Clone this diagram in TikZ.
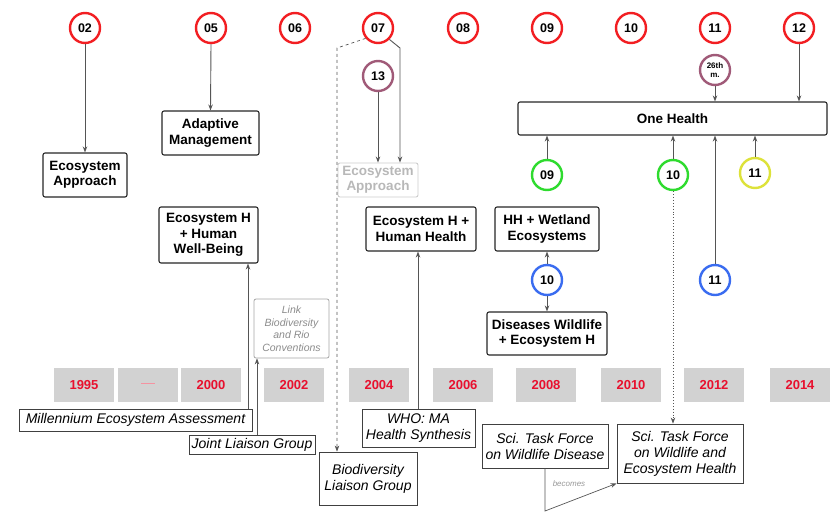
\documentclass[tikz,border=0pt]{standalone}
\usepackage{fontspec}
\setmainfont{Liberation Sans}
\usetikzlibrary{arrows.meta}
\definecolor{cred}{HTML}{F21E22}
\definecolor{cgreen}{HTML}{2EDB2E}
\definecolor{cyel}{HTML}{DDE23A}
\definecolor{cblue}{HTML}{3A6CF0}
\definecolor{cpurp}{HTML}{A05A78}
\definecolor{yrred}{HTML}{E8102E}
\definecolor{yrbox}{HTML}{D2D2D2}
\definecolor{ln}{HTML}{555555}
\tikzset{
  circ/.style={circle, line width=2.4pt, fill=white, minimum size=30pt, inner sep=0pt,
    font=\fontsize{12.5}{13}\selectfont\bfseries},
  rc/.style={circ, draw=cred},
  gc/.style={circ, draw=cgreen},
  yc/.style={circ, draw=cyel},
  bc/.style={circ, draw=cblue},
  pc/.style={circ, draw=cpurp},
  bbox/.style={draw=black!85, line width=1.1pt, rounded corners=2pt, fill=white, align=center,
    inner sep=1pt, font=\fontsize{13.5}{15.5}\selectfont\bfseries},
  ibox/.style={draw=black!75, line width=0.8pt, fill=white, align=center, inner sep=1pt,
    font=\fontsize{14}{16}\selectfont\itshape},
  yr/.style={fill=yrbox, minimum width=60pt, minimum height=34pt, inner sep=0pt,
    text=yrred, font=\fontsize{13}{14}\selectfont\bfseries},
  arr/.style={draw=ln, line width=0.9pt, -{Stealth[length=6pt,width=4.5pt]}},
}
\begin{document}
\begin{tikzpicture}[x=1pt,y=-1pt]
\useasboundingbox (0,0) rectangle (833,512);
% year boxes
\foreach \xx/\lab/\nm in {84/1995/y1, 148/{\textcolor{yrred!45}{\rule[3pt]{14pt}{1pt}}}/y2, 211/2000/y3, 294/2002/y4, 379/2004/y5, 463/2006/y6, 546/2008/y7, 631/2010/y8, 714/2012/y9, 800/2014/y10}
  \node[yr] (\nm) at (\xx,385) {\lab};
% top circles
\node[rc] (c02) at (85,28) {02};
\node[rc] (c05) at (211,28) {05};
\node[rc] (c06) at (295,28) {06};
\node[rc] (c07) at (378,28) {07};
\node[rc] (c08) at (463,28) {08};
\node[rc] (c09) at (547,28) {09};
\node[rc] (c10) at (631,28) {10};
\node[rc] (c11) at (715,28) {11};
\node[rc] (c12) at (799,28) {12};
\node[pc] (c13) at (378,76) {13};
\node[pc, font=\fontsize{8}{9}\selectfont\bfseries, align=center] (m26) at (715,70) {26th\\m.};
\node[gc] (g09) at (547,175) {09};
\node[gc] (g10) at (673,175) {10};
\node[yc] (y11) at (755,173) {11};
\node[bc] (b10) at (547,280) {10};
\node[bc] (b11) at (715,280) {11};
% boxes
\node[bbox, minimum width=309pt, minimum height=33pt] (OH) at (672.5,118.5) {One Health};
\node[bbox, minimum width=84pt, minimum height=44pt] (EA1) at (85,175) {Ecosystem\\Approach};
\node[bbox, minimum width=97pt, minimum height=44pt] (AM) at (210.5,133) {Adaptive\\Management};
\node[bbox, draw=black!20, text=black!28, line width=0.9pt, minimum width=80pt, minimum height=34pt] (EA2) at (378,180) {Ecosystem\\Approach};
\node[bbox, minimum width=99pt, minimum height=56pt] (WB) at (208.5,235) {Ecosystem H\\+ Human\\Well-Being};
\node[bbox, minimum width=110pt, minimum height=44pt] (HHe) at (421,229) {Ecosystem H +\\Human Health};
\node[bbox, minimum width=104pt, minimum height=44pt] (HHW) at (547,229) {HH + Wetland\\Ecosystems};
\node[bbox, minimum width=120pt, minimum height=43pt] (DW) at (547,333.5) {Diseases Wildlife\\+ Ecosystem H};
\node[ibox, draw=black!35, text=black!45, rounded corners=2pt, font=\fontsize{10.5}{12.5}\selectfont\itshape, minimum width=75pt, minimum height=59pt] (LK) at (291.5,328.5) {Link\\Biodiversity\\and Rio\\Conventions};
\node[ibox, minimum width=233pt, minimum height=22pt] (MEA) at (135.5,420) {Millennium Ecosystem Assessment};
\node[ibox, minimum width=126pt, minimum height=19pt] (JLG) at (252,444.5) {Joint Liaison Group};
\node[ibox, minimum width=98pt, minimum height=53pt] (BLG) at (368,478.5) {Biodiversity\\Liaison Group};
\node[ibox, minimum width=113pt, minimum height=38pt] (WHO) at (418.5,428) {WHO: MA\\Health Synthesis};
\node[ibox, minimum width=126pt, minimum height=44pt] (STF1) at (545,446) {Sci. Task Force\\on Wildlife Disease};
\node[ibox, minimum width=126pt, minimum height=59pt] (STF2) at (680,453.5) {Sci. Task Force\\on Wildlife and\\Ecosystem Health};
\node[text=black!40, font=\fontsize{8}{9}\selectfont\itshape] (bec) at (569,484) {becomes};
% helper coordinates
\coordinate (k248) at (248,0);
\coordinate (k257) at (257,0);
\coordinate (k418) at (418,0);
\coordinate (k07r) at (400,48);
\coordinate (k07l) at (337,48);
\coordinate (kbec) at (545,511);
% connectors
\draw[arr] (c02.south) -- (EA1.north);
\draw[arr] (c05.south) -- (AM.north);
\draw[arr] (c13.south) -- (c13.south |- EA2.north);
\draw[arr] (c07.-45) -- (k07r) -- (k07r |- EA2.north);
\draw[arr, dashed, line width=0.7pt] (c07.220) -- (k07l) -- (k07l |- BLG.north);
\draw[arr] (MEA.north -| k248) -- (WB.south -| k248);
\draw[arr] (JLG.north -| k257) -- (LK.south -| k257);
\draw[arr] (WHO.north -| k418) -- (HHe.south -| k418);
\draw[arr] (b10.north) -- (HHW.south);
\draw[arr] (b10.south) -- (DW.north);
\draw[arr] (g09.north) -- (g09.north |- OH.south);
\draw[arr] (g10.north) -- (g10.north |- OH.south);
\draw[arr] (y11.north) -- (y11.north |- OH.south);
\draw[arr] (b11.north) -- (b11.north |- OH.south);
\draw[arr] (m26.south) -- (m26.south |- OH.north);
\draw[arr] (c12.south) -- (c12.south |- OH.north);
\draw[arr, dotted, line width=0.8pt] (g10.south) -- (g10.south |- STF2.north);
\draw[arr, line width=0.7pt] (STF1.south) -- (kbec) -- (STF2.south west);
\end{tikzpicture}
\end{document}
